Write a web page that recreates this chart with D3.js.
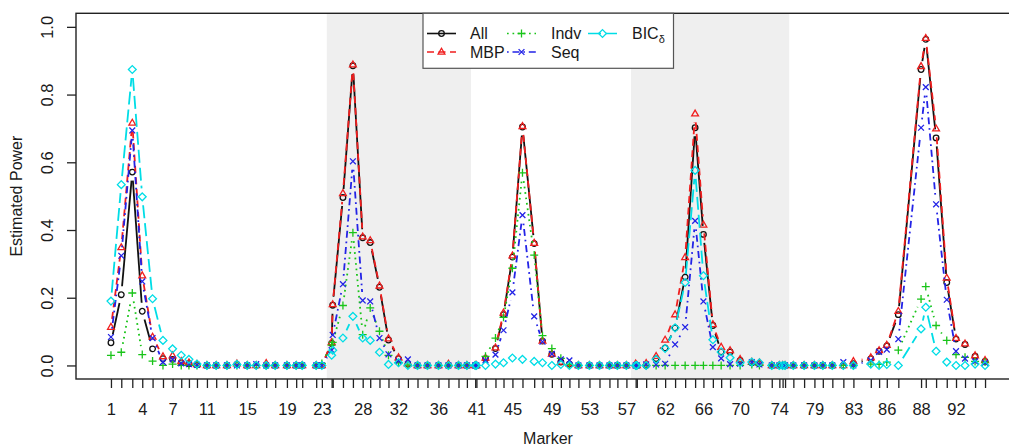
<!DOCTYPE html>
<html><head><meta charset="utf-8">
<script src="https://cdn.jsdelivr.net/npm/d3@7"></script>
<style>
body{margin:0;background:#fff}
svg{display:block}
text{font-family:"Liberation Sans",Arial,Helvetica,sans-serif;fill:#1a1a1a}
</style>
</head><body>
<svg id="c" width="1009" height="446"></svg>
<script>
// ---------- data ----------
// genetic position (cM) of markers 1..95
const markerPos = [0,1.18,2.44,3.58,4.76,5.95,7.05,8.04,8.92,9.84,
10.98,12.04,13.27,14.41,15.59,16.62,17.76,18.79,20.13,21.19,
21.88,23.48,24.13,25.25,25.37,26.54,27.68,28.80,29.66,30.72,
31.75,32.90,33.97,35.07,36.21,37.47,38.61,39.76,40.72,41.67,
41.81,42.85,43.99,44.91,45.93,47.08,48.42,49.37,50.44,51.47,
52.45,53.48,54.74,55.89,57.03,57.94,58.97,60.03,60.16,61.23,
62.37,63.40,64.54,65.69,66.83,67.78,68.86,69.81,70.83,71.98,
73.32,74.19,75.60,76.47,76.84,77.12,78.07,79.30,80.48,81.44,
82.53,83.79,84.94,86.93,87.88,88.76,90.08,92.68,93.22,94.40,
95.62,96.68,97.71,98.86,100];
const tickLabelMarkers = [1,4,7,11,15,19,23,28,32,36,41,45,49,53,57,62,66,70,74,79,83,86,88,92];
const shadedMarkerRanges = [[24,39],[58,76]];
const yTickValues = [0,0.2,0.4,0.6,0.8,1.0];
const seriesNames = ["All","MBP","Indv","Seq","BIC"];

const valAll = [0.067,0.209,0.571,0.160,0.049,0.020,0.018,0.008,0.005,0.002,
0,0,0,0.003,0,0,0,0,0,0,
0,0,0,0.065,0.178,0.496,0.885,0.377,0.363,0.231,
0.075,0.020,0.004,0,0,0,0,0,0,0,
0,0.020,0.050,0.150,0.320,0.704,0.360,0.072,0.033,0.010,
0.004,0,0,0,0,0,0,0,0,0,
0.020,0.052,0.111,0.261,0.702,0.387,0.118,0.040,0.040,0.015,
0.008,0.005,0,0,0,0,0,0,0,0,
0,0,0.005,0.020,0.042,0.058,0.150,0.874,0.963,0.672,
0.245,0.078,0.062,0.027,0.012];
const valMBP = [0.113,0.348,0.716,0.265,0.084,0.026,0.029,0.012,0.008,0.003,
0,0,0,0.005,0,0,0.006,0,0,0,
0,0,0,0.068,0.180,0.508,0.888,0.380,0.369,0.235,
0.079,0.023,0.005,0,0,0,0.004,0,0,0,
0,0.022,0.052,0.155,0.324,0.706,0.361,0.072,0.034,0.010,
0.005,0,0,0,0,0,0,0.005,0,0.006,
0.027,0.075,0.150,0.319,0.743,0.415,0.121,0.054,0.044,0.018,
0.010,0.008,0,0,0,0,0,0,0,0,
0,0,0.012,0.023,0.044,0.060,0.160,0.883,0.966,0.699,
0.258,0.080,0.064,0.029,0.015];
const valIndv = [0.030,0.039,0.214,0.032,0.013,0,0.004,0,0,0,
0,0,0,0,0,0,0,0,0,0,
0,0,0.006,0.060,0.068,0.177,0.392,0.091,0.170,0.101,
0.030,0.008,0.002,0,0,0,0,0,0,0,
0,0.027,0.081,0.142,0.287,0.569,0.326,0.088,0.050,0.021,
0.003,0,0,0,0,0,0,0,0,0,
0,0,0,0,0,0,0,0,0,0,
0.003,0,0,0,0,0,0,0,0,0,
0,0,0,0.004,0.003,0.010,0.045,0.196,0.233,0.118,
0.074,0.032,0.024,0.012,0.010];
const valSeq = [0.084,0.324,0.694,0.248,0.081,0.010,0.018,0.006,0.004,0.002,
0,0,0,0,0,0.004,0,0,0,0,
0,0,0,0.045,0.090,0.240,0.603,0.192,0.189,0.081,
0.033,0.013,0.018,0,0,0,0,0,0,0,
0,0.015,0.032,0.104,0.216,0.444,0.145,0.070,0.034,0.018,
0.015,0,0,0,0,0,0,0,0,0.003,
0.003,0.005,0.062,0.113,0.427,0.189,0.054,0.021,0.004,0.005,
0.010,0.003,0,0,0,0,0,0,0,0,
0,0.010,0,0.015,0.040,0.047,0.078,0.702,0.822,0.476,
0.194,0.042,0.020,0.012,0.008];
const valBIC = [0.190,0.534,0.874,0.498,0.197,0.074,0.049,0.030,0.018,0.004,
0,0,0,0.003,0,0,0,0,0,0,
0,0,0,0.030,0.045,0.081,0.145,0.081,0.074,0.039,
0.003,0.008,0,0,0,0,0,0,0,0,
0,0,0.004,0.008,0.022,0.018,0.012,0.008,0,0.003,
0,0,0,0,0,0,0,0,0,0,
0.018,0.050,0.111,0.245,0.576,0.265,0.076,0.040,0.023,0.008,
0.010,0.008,0,0,0,0,0,0,0,0,
0,0,0,0.004,0,0.003,0,0.108,0.172,0.042,
0.010,0,0,0.004,0];

// ---------- layout / style ----------
const svg = d3.select("#c");
const P = {left:76, right:1020, top:13.3, bottom:379};
const ext = d3.extent(markerPos), span = ext[1]-ext[0];
const x = d3.scaleLinear().domain([ext[0]-0.04*span, ext[1]+0.04*span]).range([P.left, P.right]);
const y = d3.scaleLinear().domain([-0.04, 1.04]).range([P.bottom, P.top]);

const styles = {
  All:  {color:"#111111", dash:null,        sym:"circle"},
  MBP:  {color:"#f01e1e", dash:"7,4.5",       sym:"triangle"},
  Indv: {color:"#19c419", dash:"1.7,3.8",   sym:"plus"},
  Seq:  {color:"#2323e6", dash:"1.7,3.8,7,3.8", sym:"times"},
  BIC:  {color:"#00dde6", dash:"13,5",      sym:"diamond"}
};
const seriesVals = {All:valAll, MBP:valMBP, Indv:valIndv, Seq:valSeq, BIC:valBIC};

// shading (chromosomes)
const mid = (a,b) => (x(markerPos[a-1]) + x(markerPos[b-1]))/2;
svg.append("g").selectAll("rect").data(shadedMarkerRanges).join("rect")
  .attr("x", d => mid(d[0]-1, d[0]))
  .attr("width", d => mid(d[1], d[1]+1) - mid(d[0]-1, d[0]))
  .attr("y", P.top).attr("height", P.bottom-P.top)
  .attr("fill", "#efefef");

// symbols
function symPath(type, cx, cy){
  switch(type){
    case "triangle": return `M${cx},${cy-3.8}L${cx+3.4},${cy+2.1}L${cx-3.4},${cy+2.1}Z`;
    case "plus": return `M${cx-4},${cy}H${cx+4}M${cx},${cy-4}V${cy+4}`;
    case "times": return `M${cx-2.9},${cy-2.9}L${cx+2.9},${cy+2.9}M${cx-2.9},${cy+2.9}L${cx+2.9},${cy-2.9}`;
    case "diamond": return `M${cx},${cy-3.9}L${cx+3.9},${cy}L${cx},${cy+3.9}L${cx-3.9},${cy}Z`;
    default: return `M${cx-2.8},${cy}A2.8,2.8 0 1,0 ${cx+2.8},${cy}A2.8,2.8 0 1,0 ${cx-2.8},${cy}Z`;
  }
}

// series (type = "b": lines with gaps at points)
const GAP = 8.5;
const gSeries = svg.append("g");
seriesNames.forEach(name => {
  const st = styles[name];
  const pts = seriesVals[name].map((v,i) => [x(markerPos[i]), y(v)]);
  const segs = [];
  for (let i=0;i<pts.length-1;i++){
    const [x1,y1]=pts[i],[x2,y2]=pts[i+1];
    const dx=x2-x1, dy=y2-y1, d=Math.hypot(dx,dy);
    if (d > 2*GAP+0.5){
      const ux=dx/d, uy=dy/d;
      segs.push([[x1+ux*GAP,y1+uy*GAP],[x2-ux*GAP,y2-uy*GAP]]);
    }
  }
  const line = d3.line();
  const g = gSeries.append("g");
  g.selectAll("path.seg").data(segs).join("path").attr("class","seg")
    .attr("d", d => line(d)).attr("fill","none")
    .attr("stroke", st.color).attr("stroke-width",1.8)
    .attr("stroke-dasharray", st.dash);
  g.selectAll("path.pt").data(pts).join("path").attr("class","pt")
    .attr("d", d => symPath(st.sym, d[0], d[1]))
    .attr("fill","none").attr("stroke", st.color).attr("stroke-width",1.3);
});

// axes
const xAxis = d3.axisBottom(x).tickValues(markerPos).tickSize(9).tickSizeOuter(0)
  .tickFormat((d) => { const m = markerPos.indexOf(d)+1; return tickLabelMarkers.includes(m) ? String(m) : ""; });
const gx = svg.append("g").attr("transform", `translate(0,${P.bottom})`).call(xAxis);
gx.select(".domain").remove();
gx.selectAll(".tick line").attr("stroke","#222").attr("stroke-width",1.3);
gx.selectAll(".tick text").attr("y",36).attr("dy",0).style("font-size","16.5px").attr("fill","#1a1a1a");

const yAxis = d3.axisLeft(y).tickValues(yTickValues).tickSize(9).tickFormat(d3.format(".1f"));
const gy = svg.append("g").attr("transform", `translate(${P.left},0)`).call(yAxis);
gy.select(".domain").remove();
gy.selectAll(".tick line").attr("stroke","#222").attr("stroke-width",1.3);
gy.selectAll(".tick text").attr("x",0).attr("dy",0).attr("text-anchor","middle")
  .attr("transform","translate(-23,0) rotate(-90)").style("font-size","16.5px").attr("fill","#1a1a1a");

// box
svg.append("rect").attr("x",P.left).attr("y",P.top).attr("width",P.right-P.left).attr("height",P.bottom-P.top)
  .attr("fill","none").attr("stroke","#222").attr("stroke-width",1.4);

// axis titles
svg.append("text").attr("x",(P.left+P.right)/2).attr("y",444).attr("text-anchor","middle")
  .style("font-size","16px").text("Marker");
svg.append("text").attr("transform",`translate(22,${(P.top+P.bottom)/2}) rotate(-90)`).attr("text-anchor","middle")
  .style("font-size","16px").text("Estimated Power");

// legend
const legendItems = [
  {name:"All", col:0, row:0}, {name:"MBP", col:0, row:1},
  {name:"Indv", col:1, row:0}, {name:"Seq", col:1, row:1},
  {name:"BIC", col:2, row:0}
];
const LX = [427, 507, 588], TX = [470, 551, 632], LY = [33.5, 52];
const gl = svg.append("g");
gl.append("rect").attr("x",423).attr("y",P.top).attr("width",250.5).attr("height",55)
  .attr("fill","#fff").attr("stroke","#555").attr("stroke-width",1.2);
legendItems.forEach(it => {
  const st = styles[it.name];
  const lx = LX[it.col], ly = LY[it.row];
  gl.append("line").attr("x1",lx).attr("x2",lx+29).attr("y1",ly).attr("y2",ly)
    .attr("stroke",st.color).attr("stroke-width",1.6).attr("stroke-dasharray",st.dash);
  gl.append("path").attr("d",symPath(st.sym, lx+14.5, ly)).attr("fill","none")
    .attr("stroke",st.color).attr("stroke-width",1.3);
  const t = gl.append("text").attr("x",TX[it.col]).attr("y",ly+5.8).style("font-size","16px");
  if (it.name === "BIC"){
    t.append("tspan").text("BIC");
    t.append("tspan").attr("dy",4).style("font-size","11px").text("δ");
  } else t.text(it.name);
});
</script>
</body></html>
